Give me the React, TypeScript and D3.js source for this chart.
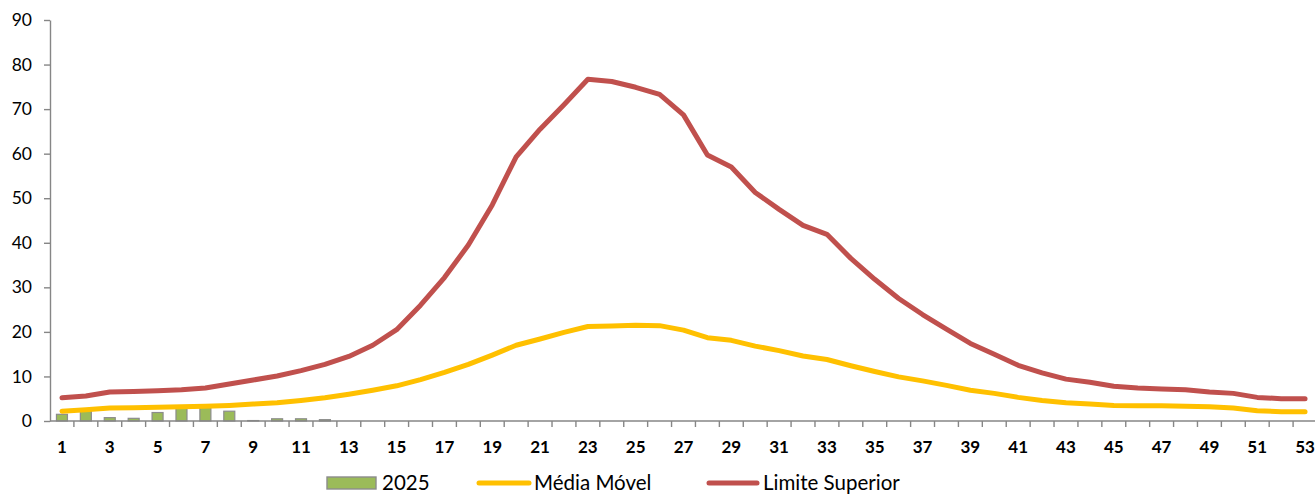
import * as d3 from "d3";
import { useEffect, useRef } from "react";

const weeks = d3.range(1, 54);

const casos2025 = [1.5, 2.6, 0.75, 0.6, 1.9, 2.9, 3.0, 2.2, 0.1, 0.5, 0.5, 0.3];

const mediaMovel = [
  2.2, 2.5, 2.9, 3.0, 3.1, 3.2, 3.3, 3.5, 3.8, 4.1, 4.6, 5.2, 6.0, 6.9, 7.9, 9.3,
  10.9, 12.7, 14.8, 17.0, 18.4, 19.9, 21.2, 21.3, 21.5, 21.4, 20.4, 18.7, 18.1,
  16.8, 15.8, 14.6, 13.8, 12.4, 11.1, 9.9, 9.0, 8.0, 6.9, 6.2, 5.3, 4.6, 4.1, 3.8,
  3.5, 3.4, 3.4, 3.3, 3.2, 2.9, 2.3, 2.1, 2.1,
];

const limiteSuperior = [
  5.2, 5.6, 6.5, 6.6, 6.8, 7.0, 7.4, 8.3, 9.2, 10.1, 11.3, 12.7, 14.5, 17.0, 20.5,
  26.0, 32.2, 39.5, 48.5, 59.3, 65.5, 71.0, 76.7, 76.2, 74.9, 73.3, 68.7, 59.7,
  57.0, 51.3, 47.5, 43.9, 41.9, 36.5, 31.8, 27.5, 23.9, 20.6, 17.4, 15.0, 12.5,
  10.8, 9.4, 8.7, 7.8, 7.4, 7.2, 7.0, 6.5, 6.2, 5.3, 5.0, 5.0,
];

const yTicks = [0, 10, 20, 30, 40, 50, 60, 70, 80, 90];

const W = 1315;
const H = 495;
const FONT = "Lato, 'Open Sans', sans-serif";

export default function App() {
  const ref = useRef<SVGSVGElement | null>(null);

  useEffect(() => {
    const el = ref.current;
    if (!el) return;
    const svg = d3.select(el);
    svg.selectAll("*").remove();

    const margin = { top: 20, left: 50, bottom: 74, right: -2 };
    const axisColor = "#868686";

    const x = d3
      .scaleBand<string>()
      .domain(weeks.map(String))
      .range([margin.left, W - margin.right])
      .paddingInner(0)
      .paddingOuter(0);

    const y = d3.scaleLinear().domain([0, 90]).range([H - margin.bottom, margin.top]);

    // y axis
    svg
      .append("g")
      .attr("transform", `translate(${margin.left},0)`)
      .call(d3.axisLeft(y).tickValues(yTicks).tickSize(6).tickPadding(12).tickSizeOuter(0))
      .call((g) => g.selectAll("path,line").attr("stroke", axisColor).attr("stroke-width", 1.4))
      .call((g) =>
        g.selectAll("text").attr("fill", "#000").attr("font-size", 17.5).attr("font-family", FONT)
      );

    // bars
    const bw = 11;
    svg
      .append("g")
      .selectAll("rect")
      .data(casos2025)
      .enter()
      .append("rect")
      .attr("x", (_, i) => (x(String(weeks[i])) ?? 0) + x.bandwidth() / 2 - bw / 2)
      .attr("y", (d) => y(d))
      .attr("width", bw)
      .attr("height", (d) => y(0) - y(d))
      .attr("fill", "#9bbb59")
      .attr("stroke", "#8c8c8c")
      .attr("stroke-width", 1.2);

    // x axis
    const xg = svg.append("g").attr("transform", `translate(0,${y(0)})`);
    xg.append("line")
      .attr("x1", margin.left)
      .attr("x2", W)
      .attr("stroke", axisColor)
      .attr("stroke-width", 1.4);
    xg.selectAll("line.tick")
      .data(weeks)
      .enter()
      .append("line")
      .attr("class", "tick")
      .attr("x1", (d) => (x(String(d)) ?? 0) + x.bandwidth())
      .attr("x2", (d) => (x(String(d)) ?? 0) + x.bandwidth())
      .attr("y1", 0)
      .attr("y2", 6)
      .attr("stroke", axisColor)
      .attr("stroke-width", 1.4);
    xg.selectAll("text")
      .data(weeks.filter((d) => d % 2 === 1))
      .enter()
      .append("text")
      .attr("x", (d) => (x(String(d)) ?? 0) + x.bandwidth() / 2)
      .attr("y", 32)
      .attr("text-anchor", "middle")
      .attr("font-size", 17)
      .attr("font-weight", 700)
      .attr("font-family", FONT)
      .attr("fill", "#000")
      .text((d) => String(d));

    const cx = (i: number) => (x(String(weeks[i])) ?? 0) + x.bandwidth() / 2;

    const line = d3
      .line<number>()
      .x((_, i) => cx(i))
      .y((d) => y(d));

    svg
      .append("path")
      .datum(mediaMovel)
      .attr("d", line)
      .attr("fill", "none")
      .attr("stroke", "#ffc000")
      .attr("stroke-width", 5)
      .attr("stroke-linejoin", "round")
      .attr("stroke-linecap", "round");

    svg
      .append("path")
      .datum(limiteSuperior)
      .attr("d", line)
      .attr("fill", "none")
      .attr("stroke", "#c0504d")
      .attr("stroke-width", 5)
      .attr("stroke-linejoin", "round")
      .attr("stroke-linecap", "round");

    // legend
    const lg = svg.append("g").attr("font-family", FONT).attr("font-size", 20.5).attr("fill", "#000");
    const ly = 483;
    lg.append("rect")
      .attr("x", 327)
      .attr("y", ly - 6)
      .attr("width", 49)
      .attr("height", 12)
      .attr("fill", "#9bbb59")
      .attr("stroke", "#8c8c8c")
      .attr("stroke-width", 1.4);
    lg.append("text").attr("x", 382).attr("y", ly).attr("dy", "0.36em").text("2025");

    lg.append("line")
      .attr("x1", 479)
      .attr("x2", 529)
      .attr("y1", ly)
      .attr("y2", ly)
      .attr("stroke", "#ffc000")
      .attr("stroke-width", 5)
      .attr("stroke-linecap", "round");
    lg.append("text").attr("x", 534).attr("y", ly).attr("dy", "0.36em").text("Média Móvel");

    lg.append("line")
      .attr("x1", 709)
      .attr("x2", 757)
      .attr("y1", ly)
      .attr("y2", ly)
      .attr("stroke", "#c0504d")
      .attr("stroke-width", 5)
      .attr("stroke-linecap", "round");
    lg.append("text").attr("x", 763).attr("y", ly).attr("dy", "0.36em").text("Limite Superior");
  }, []);

  return (
    <svg
      ref={ref}
      width={W}
      height={H}
      style={{ position: "fixed", left: 0, top: 0, background: "#fff", display: "block" }}
    />
  );
}
